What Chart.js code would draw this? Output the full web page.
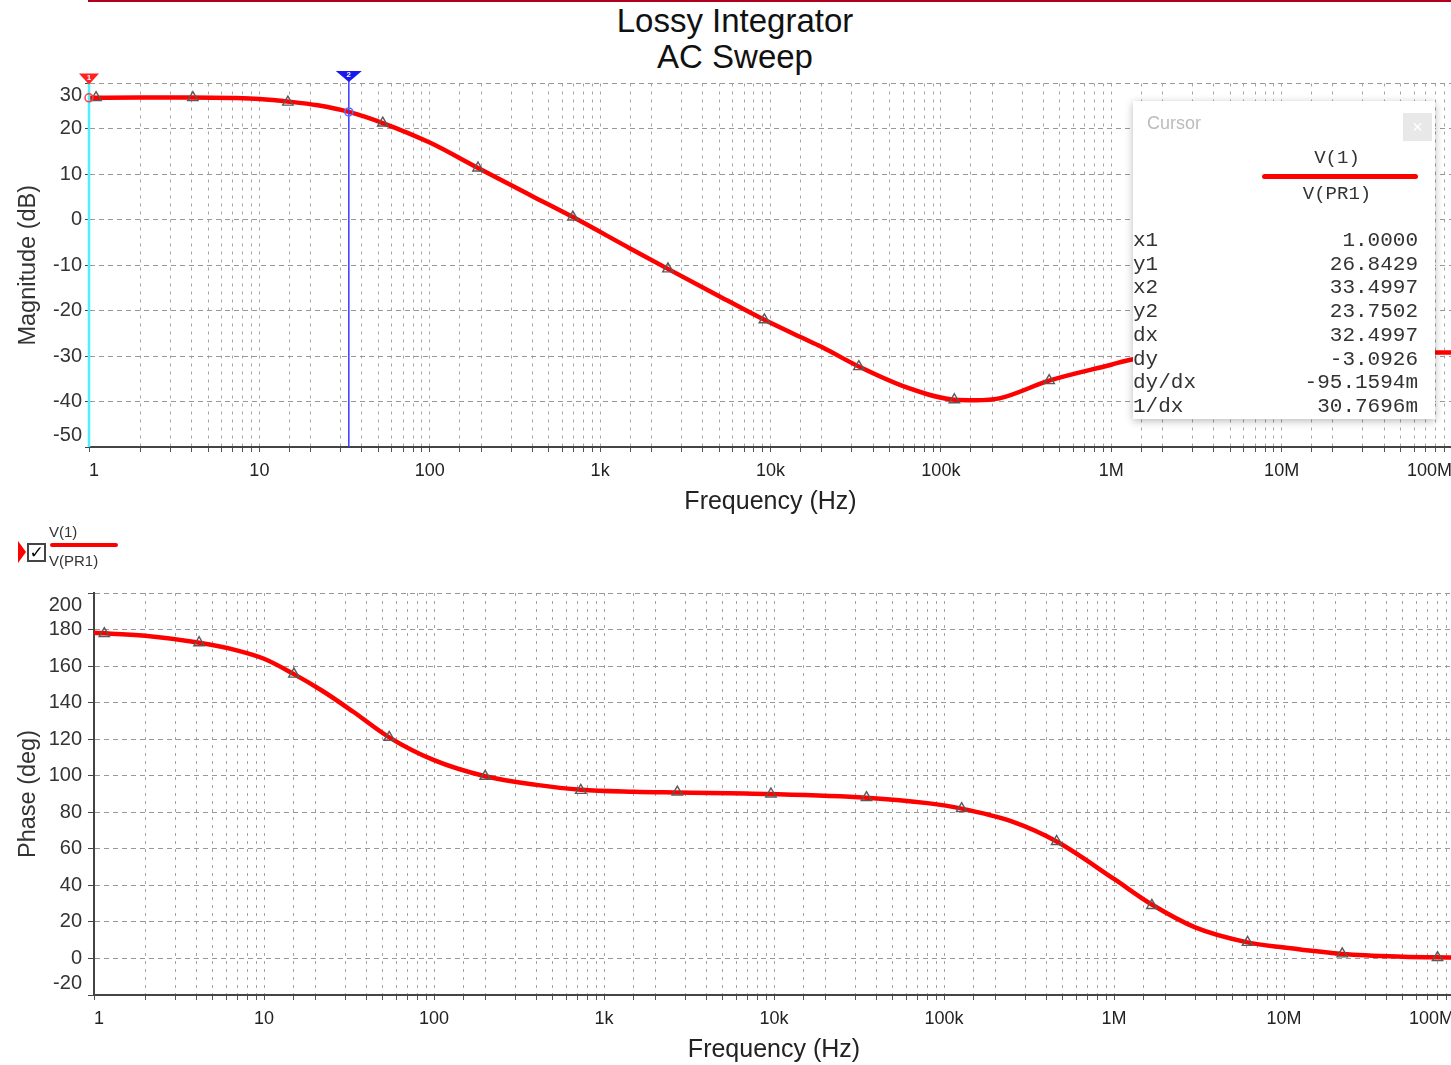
<!DOCTYPE html>
<html>
<head>
<meta charset="utf-8">
<script src="https://cdn.jsdelivr.net/npm/chart.js@4.4.0/dist/chart.umd.min.js"></script>
<style>
  body { margin: 0; width: 1451px; height: 1065px; overflow: hidden; background: #fff; position: relative; font-family: 'Liberation Sans', Arial, sans-serif; }
  canvas { position: absolute; left: 0; }
  #topRule { position: absolute; left: 88px; top: 0; width: 1363px; height: 2px; background: #b0001e; }
  #title { position: absolute; left: 0; top: 3px; width: 1470px; text-align: center; font-size: 33px; line-height: 36px; color: #111; }
  .cursorBox { position: absolute; left: 1133px; top: 101px; width: 302px; height: 318px; background: #fff; box-shadow: 0 2px 8px rgba(0,0,0,0.28); font-family: 'Liberation Mono', monospace; color: #333; }
  .cursorBox div { position: absolute; white-space: pre; }
</style>
</head>
<body>
<div id="topRule"></div>
<div id="title">Lossy Integrator<br>AC Sweep</div>
<canvas id="magChart" width="1500" height="522" style="top:0"></canvas>
<canvas id="phaseChart" width="1500" height="525" style="top:540px"></canvas>

<!-- legend of the phase plot -->
<div style="position:absolute;left:18px;top:541px;width:0;height:0;border-top:11px solid transparent;border-bottom:11px solid transparent;border-left:8px solid #f00;"></div>
<div style="position:absolute;left:27px;top:543px;width:15px;height:15px;border:2px solid #444;background:#fff;font-size:17px;line-height:15px;text-align:center;color:#000;font-weight:bold;font-family:'DejaVu Sans';">&#10003;</div>
<div style="position:absolute;left:49px;top:522px;font-size:15px;line-height:20px;color:#333;">V(1)</div>
<div style="position:absolute;left:50px;top:543px;width:68px;height:4px;background:#f00;border-radius:2px;"></div>
<div style="position:absolute;left:49px;top:551px;font-size:15px;line-height:20px;color:#333;">V(PR1)</div>

<div class="cursorBox" id="cursorBox"></div>

<script>
// frequency tick labels (one per decade)
const freqTickLabels = ['1', '10', '100', '1k', '10k', '100k', '1M', '10M', '100M'];

// magnitude trace V(1)/V(PR1), dB
const magFreq = [1, 2, 4, 7, 10, 15, 22, 33.5, 53, 100, 192, 400, 692, 1500, 2500, 5000, 9200, 15000, 20000, 33000, 63000, 120000, 160000, 220000, 432000, 1000000, 1300000, 3000000, 10000000, 30000000, 100000000];
const magDb = [26.84, 26.9, 26.9, 26.8, 26.6, 26.0, 25.2, 23.75, 21.3, 17.0, 11.4, 5.2, 0.6, -6.3, -10.8, -16.8, -22.0, -25.8, -28.0, -32.3, -36.9, -39.6, -39.7, -39.3, -35.4, -31.9, -30.8, -29.8, -29.3, -29.2, -29.2];
const magMarkFreq = [1.1, 4.07, 14.7, 53, 192, 692, 2500, 9200, 33000, 120000, 432000, 1560000, 5600000, 20000000, 72000000];
const magMarkDb = [26.9, 26.9, 25.9, 21.3, 11.4, 0.6, -10.8, -22, -32.3, -39.6, -35.4, -30.5, -29.6, -29.2, -29.2];

// phase trace, degrees
const phaseFreq = [1, 2, 4, 7, 10, 15, 22, 33.5, 54.5, 100, 200, 400, 730, 1500, 2700, 9600, 35000, 80000, 127000, 250000, 460000, 1000000, 1670000, 3000000, 6100000, 10000000, 22000000, 50000000, 100000000];
const phaseDeg = [178.2, 176.6, 173, 168.5, 164, 155.6, 146.5, 135, 121, 108.5, 99.7, 95, 92.3, 91.2, 90.8, 90, 88, 85, 82, 75, 64, 43.5, 29.5, 17, 8.8, 6, 2.5, 1, 0.5];
const phaseMarkFreq = [1.15, 4.15, 15, 54.5, 200, 730, 2700, 9600, 35000, 127000, 460000, 1670000, 6100000, 22000000, 80000000];
const phaseMarkDeg = [177.8, 172.8, 155.6, 121, 99.7, 92, 91, 90, 88, 82, 64, 29, 8.8, 2.5, 0.5];

// cursors
const cursorX = [1.0, 33.4997];
const cursorY = [26.8429, 23.7502];
const cursorRowNames = ['x1', 'y1', 'x2', 'y2', 'dx', 'dy', 'dy/dx', '1/dx'];
const cursorRowValues = ['1.0000', '26.8429', '33.4997', '23.7502', '32.4997', '-3.0926', '-95.1594m', '30.7696m'];

const toPoints = (xs, ys) => xs.map((x, i) => ({ x: x, y: ys[i] }));

const freqLabel = (v) => {
  const e = Math.log10(v);
  const r = Math.round(e);
  return Math.abs(e - r) < 1e-6 ? freqTickLabels[r] : '';
};

// draws the two cursor lines with their flags
const cursorPlugin = {
  id: 'cursors',
  afterDatasetsDraw(chart) {
    const { ctx, chartArea, scales } = chart;
    const lineColors = ['#50eeff', '#3838ff'];
    const flagColors = ['#ff2020', '#1818f0'];
    ctx.save();
    cursorX.forEach((fx, i) => {
      const px = scales.x.getPixelForValue(fx);
      ctx.strokeStyle = lineColors[i];
      ctx.lineWidth = i === 0 ? 2.5 : 1.5;
      ctx.beginPath();
      ctx.moveTo(px, chartArea.top - 8);
      ctx.lineTo(px, chartArea.bottom);
      ctx.stroke();

      const py = scales.y.getPixelForValue(cursorY[i]);
      ctx.strokeStyle = i === 0 ? '#ff4040' : '#5070ff';
      ctx.lineWidth = 1.5;
      ctx.beginPath();
      ctx.arc(px, py, 4, 0, Math.PI * 2);
      ctx.stroke();

      const w = i === 0 ? 10 : 13;
      const top = chartArea.top - (i === 0 ? 10 : 12.5);
      ctx.fillStyle = flagColors[i];
      ctx.beginPath();
      ctx.moveTo(px - w, top);
      ctx.lineTo(px + w, top);
      ctx.lineTo(px, top + 11);
      ctx.closePath();
      ctx.fill();
      ctx.fillStyle = '#fff';
      ctx.font = 'bold 8px "Liberation Sans"';
      ctx.textAlign = 'center';
      ctx.textBaseline = 'middle';
      ctx.fillText(String(i + 1), px, top + 4);
    });
    ctx.restore();
  }
};

// keep the end labels of the y axis inside the plot, as the original does
const clampYLabels = {
  id: 'clampYLabels',
  beforeDraw(chart) {
    const s = chart.scales.y;
    const items = s.getLabelItems();
    items.forEach((it) => {
      const t = it.options.translation;
      if (Math.abs(t[1] - s.top) < 1) t[1] = s.top + 12;
      else if (Math.abs(t[1] - s.bottom) < 1) t[1] = s.bottom - 12;
    });
  }
};

function makeChart(id, opts) {
  return new Chart(document.getElementById(id), {
    type: 'scatter',
    data: {
      datasets: [
        {
          data: toPoints(opts.markFreq, opts.markVal),
          showLine: false,
          pointStyle: 'triangle',
          pointRadius: 6,
          pointBorderColor: '#5a5a5a',
          pointBackgroundColor: 'rgba(255,255,255,0)',
          pointBorderWidth: 1.4
        },
        {
          data: toPoints(opts.freq, opts.val),
          showLine: true,
          borderColor: '#ff0000',
          borderWidth: 4.5,
          pointRadius: 0,
          cubicInterpolationMode: 'monotone'
        }
      ]
    },
    options: {
      responsive: false,
      animation: false,
      layout: { padding: { top: opts.padTop, right: opts.padRight, left: 0, bottom: 0 } },
      plugins: { legend: { display: false }, tooltip: { enabled: false } },
      scales: {
        x: {
          type: 'logarithmic',
          min: 1,
          max: 100000000,
          afterFit: (s) => { s.height = opts.xHeight; s.paddingLeft = 0; s.paddingRight = 0; },
          border: { display: true, color: '#444', width: 2, dash: [3, 5] },
          grid: { color: '#a4a4a4', lineWidth: 1, tickLength: 5, tickColor: '#555' },
          ticks: {
            autoSkip: false,
            maxRotation: 0,
            align: 'inner',
            padding: 8,
            color: '#222',
            font: { family: 'Liberation Sans', size: 18 },
            callback: (v) => freqLabel(v)
          },
          title: {
            display: true,
            text: 'Frequency (Hz)',
            color: '#222',
            font: { family: 'Liberation Sans', size: 25 },
            padding: { top: 0, bottom: opts.xTitlePad }
          }
        },
        y: {
          min: opts.yMin,
          max: opts.yMax,
          afterFit: (s) => { s.width = opts.yWidth; },
          border: { display: true, color: '#444', width: 2, dash: [5, 4] },
          grid: { color: '#999999', lineWidth: 1, tickLength: opts.yTick, tickColor: '#444' },
          ticks: {
            stepSize: opts.yStep,
            padding: opts.yPad,
            color: '#333',
            font: { family: 'Liberation Sans', size: 20 }
          },
          title: {
            display: true,
            text: opts.yTitle,
            color: '#333',
            font: { family: 'Liberation Sans', size: 23.5 },
            padding: { top: 14, bottom: 0 }
          }
        }
      }
    },
    plugins: [clampYLabels].concat(opts.plugins || [])
  });
}

makeChart('magChart', {
  freq: magFreq, val: magDb, markFreq: magMarkFreq, markVal: magMarkDb,
  yMin: -50, yMax: 30, yStep: 10, yTitle: 'Magnitude (dB)',
  padTop: 83.5, padRight: 48, xHeight: 75, xTitlePad: 5,
  yWidth: 89, yTick: 4, yPad: 3,
  plugins: [cursorPlugin]
});

makeChart('phaseChart', {
  freq: phaseFreq, val: phaseDeg, markFreq: phaseMarkFreq, markVal: phaseMarkDeg,
  yMin: -20, yMax: 200, yStep: 20, yTitle: 'Phase (deg)',
  padTop: 53, padRight: 46, xHeight: 70, xTitlePad: 0,
  yWidth: 94, yTick: 6, yPad: 6
});

// cursor read-out box
const box = document.getElementById('cursorBox');
const put = (html, style) => {
  const d = document.createElement('div');
  d.innerHTML = html;
  d.style.cssText = style;
  box.appendChild(d);
};
put('Cursor', "left:14px;top:12px;font-family:'Liberation Sans';font-size:18px;color:#bbb;");
put('&times;', "left:270px;top:12px;width:29px;height:28px;background:#e8e8e8;color:#fff;text-align:center;font-family:'Liberation Sans';font-size:18px;line-height:28px;");
put('V(1)', 'left:129px;top:46px;width:150px;text-align:center;font-size:19px;line-height:22px;');
put('', 'left:129px;top:73px;width:156px;height:5px;background:#f00;border-radius:3px;');
put('V(PR1)', 'left:129px;top:82px;width:150px;text-align:center;font-size:19px;line-height:22px;');
cursorRowNames.forEach((name, i) => {
  const top = 128 + i * 23.7;
  put(name, 'left:0;top:' + top + 'px;font-size:21px;line-height:24px;');
  put(cursorRowValues[i], 'right:17px;top:' + top + 'px;font-size:21px;line-height:24px;text-align:right;');
});
</script>
</body>
</html>
